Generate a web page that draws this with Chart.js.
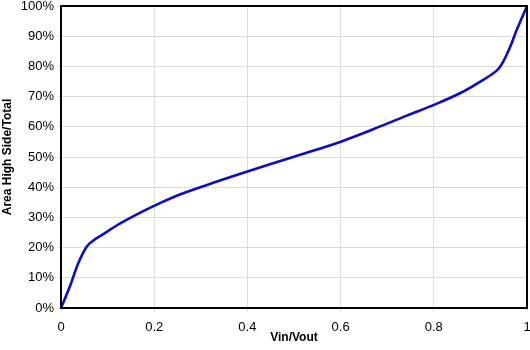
<!DOCTYPE html>
<html>
<head>
<meta charset="utf-8">
<script src="https://cdn.jsdelivr.net/npm/chart.js@4/dist/chart.umd.min.js"></script>
<style>
  html, body { margin: 0; padding: 0; background: #fff; }
  #wrap { width: 530px; height: 350px; }
</style>
</head>
<body>
<div id="wrap"><canvas id="chart"></canvas></div>
<script>
// values
const ratio = [0, 0.019, 0.037, 0.055, 0.069, 0.084, 0.127, 0.17, 0.202, 0.255, 0.341, 0.4, 0.5, 0.599, 0.67, 0.742, 0.804, 0.856, 0.899, 0.935, 0.949, 0.964, 0.978, 1];
const areaPct = [0, 7.1, 14.8, 20.3, 22.3, 23.8, 28.0, 31.6, 34.0, 37.6, 42.2, 45.2, 50.1, 55.0, 59.2, 63.7, 67.5, 71.1, 74.9, 78.6, 81.6, 86.5, 92.1, 100];
const xTicks = [0, 0.2, 0.4, 0.6, 0.8, 1];
const yTicks = [0, 10, 20, 30, 40, 50, 60, 70, 80, 90, 100];

const points = ratio.map((x, i) => ({ x: x, y: areaPct[i] }));

const frame = {
  id: "frame",
  afterDatasetsDraw(chart) {
    const a = chart.chartArea;
    const ctx = chart.ctx;
    ctx.save();
    ctx.strokeStyle = "#000";
    ctx.lineWidth = 2;
    ctx.strokeRect(a.left, a.top, a.right - a.left, a.bottom - a.top);
    ctx.restore();
  }
};

new Chart(document.getElementById("chart"), {
  type: "scatter",
  data: {
    datasets: [{
      data: points,
      showLine: true,
      borderColor: "#0c0cc8",
      borderWidth: 2.6,
      pointRadius: 0,
      tension: 0.35,
      clip: false
    }]
  },
  options: {
    responsive: true,
    maintainAspectRatio: false,
    animation: false,
    layout: { padding: { left: 0, right: 3, top: 6, bottom: 0 } },
    plugins: { legend: { display: false }, tooltip: { enabled: false } },
    scales: {
      x: {
        type: "linear",
        min: 0,
        max: 1,
        afterBuildTicks: s => { s.ticks = xTicks.map(v => ({ value: v })); },
        afterFit: s => { s.height = 42; s.paddingLeft = 0; s.paddingRight = 0; },
        grid: { color: "#dcdcdc", lineWidth: 1, tickLength: 3 },
        border: { color: "#000", width: 2 },
        ticks: {
          color: "#000",
          font: { family: "Liberation Sans, Arial", size: 13 },
          padding: 9,
          maxRotation: 0,
          callback: v => String(v)
        },
        title: {
          display: true,
          text: "Vin/Vout",
          color: "#000",
          font: { family: "Liberation Sans, Arial", size: 12, weight: "bold" },
          padding: { top: 0, bottom: 5 }
        }
      },
      y: {
        min: 0,
        max: 100,
        afterBuildTicks: s => { s.ticks = yTicks.map(v => ({ value: v })); },
        afterFit: s => { s.width = 61; s.paddingTop = 0; s.paddingBottom = 0; },
        grid: { color: "#dcdcdc", lineWidth: 1, tickLength: 3 },
        border: { color: "#000", width: 2 },
        ticks: {
          color: "#000",
          font: { family: "Liberation Sans, Arial", size: 13 },
          padding: 4,
          callback: v => v + "%"
        },
        title: {
          display: true,
          text: "Area High Side/Total",
          color: "#000",
          font: { family: "Liberation Sans, Arial", size: 12, weight: "bold" },
          padding: { top: 0, bottom: 2 }
        }
      }
    }
  },
  plugins: [frame]
});
</script>
</body>
</html>
